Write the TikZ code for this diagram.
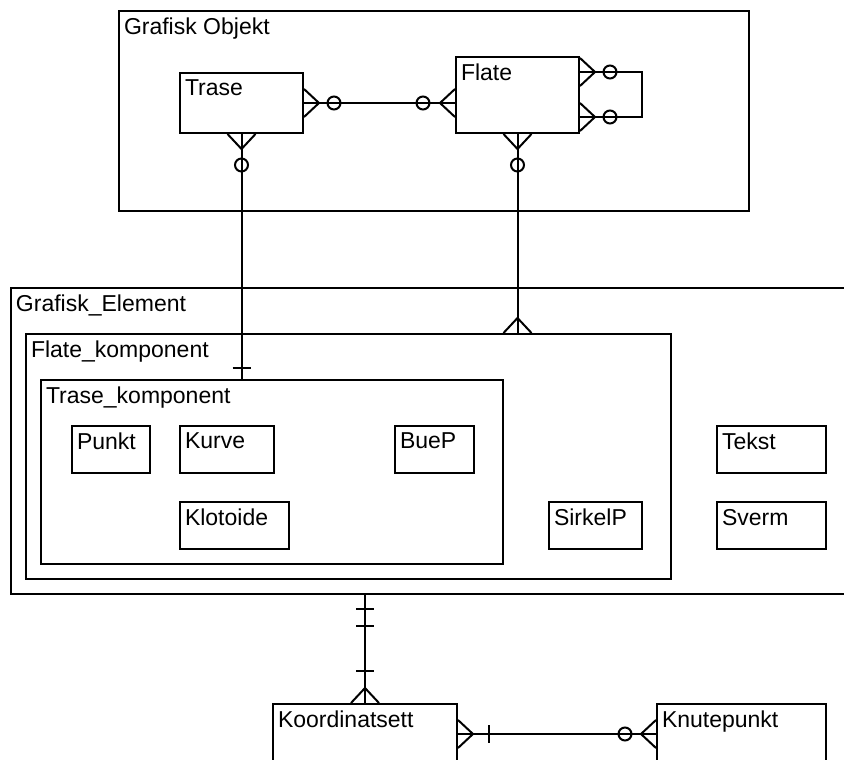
\documentclass[tikz,border=0pt]{standalone}
\usepackage{fontspec}
\setmainfont{Liberation Sans}
\usetikzlibrary{calc}

\begin{document}
\begin{tikzpicture}[x=1pt, y=-1pt, line width=2pt,
    ent/.style 2 args={draw, anchor=north west, inner sep=0pt, minimum width=#1, minimum height=#2},
    etitle/.style={label={[anchor=north west, inner xsep=5pt, inner ysep=7pt, font=\fontsize{23}{26}\selectfont]north west:#1}},
    many/.pic={\draw (0,-14) -- (15,0) -- (0,14);},
    zero/.pic={\draw (0,0) circle (6.5);},
    one/.pic={\draw (0,-9) -- (0,9);}]
  %tikz  ER-diagram, grafiske elementer
    \useasboundingbox (0,0) rectangle (844,760);
    \fill[white] (0,0) rectangle (844,760);
    \clip (0,0) rectangle (844,760);

    % rammer
    \node[ent={630pt}{200pt}, etitle={Grafisk Objekt}] (grobj) at (118,10) {};
    \node[ent={900pt}{306pt}, etitle={Grafisk\_Element}] (grafel) at (10,287) {};
    \node[ent={645pt}{245pt}, etitle={Flate\_komponent}] (flatek) at (25,333) {};
    \node[ent={462pt}{184pt}, etitle={Trase\_komponent}] (trasek) at (40,379) {};

    % entiteter
    \node[ent={123pt}{60pt}, etitle={Trase}] (trase) at (179,72) {};
    \node[ent={123pt}{76pt}, etitle={Flate}] (flate) at (455,56) {};
    \node[ent={78pt}{47pt}, etitle={Punkt}] (punkt) at (71,425) {};
    \node[ent={94pt}{47pt}, etitle={Kurve}] (kurve) at (179,425) {};
    \node[ent={79pt}{47pt}, etitle={BueP}] (buep) at (394,425) {};
    \node[ent={109pt}{47pt}, etitle={Klotoide}] (klotoide) at (179,501) {};
    \node[ent={93pt}{47pt}, etitle={SirkelP}] (sirkelp) at (548,501) {};
    \node[ent={109pt}{47pt}, etitle={Tekst}] (tekst) at (716,425) {};
    \node[ent={109pt}{47pt}, etitle={Sverm}] (sverm) at (716,501) {};
    \node[ent={184pt}{90pt}, etitle={Koordinatsett}] (koord) at (272,703) {};
    \node[ent={169pt}{90pt}, etitle={Knutepunkt}] (knut) at (656,703) {};

    % Trase -- Flate
    \draw (trase.east) -- (trase.east -| flate.west);
    \path (trase.east) pic {many} ++(30,0) pic {zero};
    \path (trase.east -| flate.west) pic[rotate=180] {many} ++(-32,0) pic {zero};

    % Flate -- Flate
    \coordinate (fltop) at ($(flate.north east)+(0,16)$);
    \coordinate (flbot) at ($(flate.north east)+(0,61)$);
    \draw (fltop) -- ++(62,0) |- (flbot);
    \path (fltop) pic {many} ++(30,0) pic {zero};
    \path (flbot) pic {many} ++(30,0) pic {zero};

    % Trase -- Trase_komponent
    \draw (trase.south) -- (trase.south |- trasek.north);
    \path (trase.south) pic[rotate=-90] {many} ++(0,31) pic {zero};
    \path (trase.south |- trasek.north) ++(0,-11) pic[rotate=90] {one};

    % Flate -- Flate_komponent
    \draw (flate.south) -- (flate.south |- flatek.north);
    \path (flate.south) pic[rotate=-90] {many} ++(0,31) pic {zero};
    \path (flate.south |- flatek.north) pic[rotate=90] {many};

    % Grafisk_Element -- Koordinatsett
    \draw (koord.north |- grafel.south) -- (koord.north);
    \path (koord.north |- grafel.south) ++(0,14) pic[rotate=90] {one} ++(0,17) pic[rotate=90] {one};
    \path (koord.north) pic[rotate=90] {many} ++(0,-32) pic[rotate=90] {one};

    % Koordinatsett -- Knutepunkt
    \coordinate (kk) at ($(koord.north east)+(0,31)$);
    \draw (kk) -- (kk -| knut.west);
    \path (kk) pic {many} ++(31,0) pic {one};
    \path (kk -| knut.west) pic[rotate=180] {many} ++(-31,0) pic {zero};

  \end{tikzpicture}
\end{document}
